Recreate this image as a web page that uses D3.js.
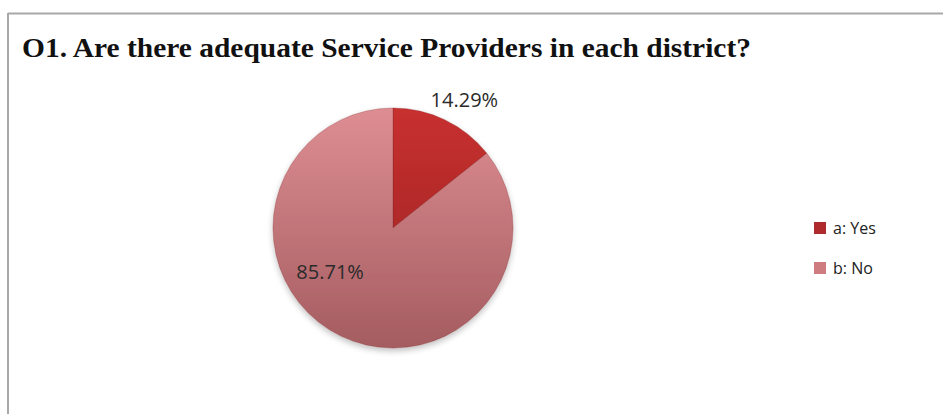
<!DOCTYPE html>
<html>
<head>
<meta charset="utf-8">
<script src="https://cdn.jsdelivr.net/npm/d3@7"></script>
<style>
  html, body { margin: 0; padding: 0; background: #fff; }
  svg { display: block; }
</style>
</head>
<body>
<svg id="chart" width="943" height="418"></svg>
<script>
// Survey answers for question O1
const categories = ["a: Yes", "b: No"];
const shares = [14.29, 85.71];
const valueLabels = ["14.29%", "85.71%"];
const titleText = "O1. Are there adequate Service Providers in each district?";

const W = 943, H = 418;
const cx = 393, cy = 228, R = 120;

const svg = d3.select("#chart");
const defs = svg.append("defs");

// vertical shading for each slice, light at top, darker at the bottom
const sliceShades = [
  ["#c8302f", "#962222"],
  ["#de8e92", "#a45c60"]
];
sliceShades.forEach((s, i) => {
  const g = defs.append("linearGradient")
    .attr("id", "shade" + i)
    .attr("gradientUnits", "userSpaceOnUse")
    .attr("x1", 0).attr("y1", -R).attr("x2", 0).attr("y2", R);
  g.append("stop").attr("offset", "0%").attr("stop-color", s[0]);
  g.append("stop").attr("offset", "100%").attr("stop-color", s[1]);
});

const shadow = defs.append("filter").attr("id", "soft")
  .attr("x", "-20%").attr("y", "-20%").attr("width", "140%").attr("height", "140%");
shadow.append("feGaussianBlur").attr("in", "SourceAlpha").attr("stdDeviation", 3).attr("result", "b");
shadow.append("feOffset").attr("in", "b").attr("dy", 3).attr("result", "o");
shadow.append("feComponentTransfer").attr("in", "o").attr("result", "t")
  .append("feFuncA").attr("type", "linear").attr("slope", 0.25);
const merge = shadow.append("feMerge");
merge.append("feMergeNode").attr("in", "t");
merge.append("feMergeNode").attr("in", "SourceGraphic");

// frame: top and left rules
svg.append("line").attr("x1", 8).attr("y1", 13.5).attr("x2", W).attr("y2", 13.5)
  .attr("stroke", "#a8a8a8").attr("stroke-width", 2);
svg.append("line").attr("x1", 8).attr("y1", 13).attr("x2", 8).attr("y2", 414)
  .attr("stroke", "#a8a8a8").attr("stroke-width", 2);

// title
svg.append("text")
  .attr("x", 22).attr("y", 57)
  .attr("font-family", "'Liberation Serif', 'Times New Roman', serif")
  .attr("font-weight", "bold")
  .attr("font-size", 28)
  .attr("textLength", 729)
  .attr("lengthAdjust", "spacingAndGlyphs")
  .attr("fill", "#111")
  .text(titleText);

// pie
const color = d3.scaleOrdinal().domain(categories).range(["url(#shade0)", "url(#shade1)"]);
const legendColor = d3.scaleOrdinal().domain(categories).range(["#b02b2c", "#cf7c80"]);

const pie = d3.pie().sort(null).value(d => d.v);
const data = categories.map((c, i) => ({ c, v: shares[i], label: valueLabels[i] }));
const arcs = pie(data);
const arc = d3.arc().innerRadius(0).outerRadius(R);

const pieG = svg.append("g").attr("transform", `translate(${cx},${cy})`).attr("filter", "url(#soft)");
pieG.selectAll("path")
  .data(arcs)
  .join("path")
  .attr("d", arc)
  .attr("fill", d => color(d.data.c))
  .attr("stroke", "rgba(120,30,30,0.35)")
  .attr("stroke-width", 0.8);

// value labels: the small slice is labelled just outside the rim,
// the large one inside, toward its lower-left part
const labelPlace = [
  { turn: 0.06, radius: 1.22 },
  { turn: 0.51, radius: 0.64 }
];
const labelG = svg.append("g").attr("transform", `translate(${cx},${cy})`);
labelG.selectAll("text")
  .data(arcs)
  .join("text")
  .attr("transform", (d, i) => {
    const a = (d.startAngle + d.endAngle) / 2 + labelPlace[i].turn;
    const r = R * labelPlace[i].radius;
    return `translate(${r * Math.sin(a)},${-r * Math.cos(a)})`;
  })
  .attr("text-anchor", "middle")
  .attr("dy", "0.35em")
  .attr("font-family", "'Open Sans', sans-serif")
  .attr("font-size", 20)
  .attr("fill", "#2a2a2a")
  .text(d => d.data.label);

// legend
const legend = svg.append("g").attr("transform", "translate(814,222)");
const item = legend.selectAll("g")
  .data(categories)
  .join("g")
  .attr("transform", (d, i) => `translate(0,${i * 40})`);
item.append("rect").attr("width", 12).attr("height", 12).attr("y", 0)
  .attr("fill", d => legendColor(d));
item.append("text").attr("x", 19).attr("y", 6).attr("dy", "0.35em")
  .attr("font-family", "'Open Sans', sans-serif")
  .attr("font-size", 16)
  .attr("fill", "#222")
  .text(d => d);
</script>
</body>
</html>
